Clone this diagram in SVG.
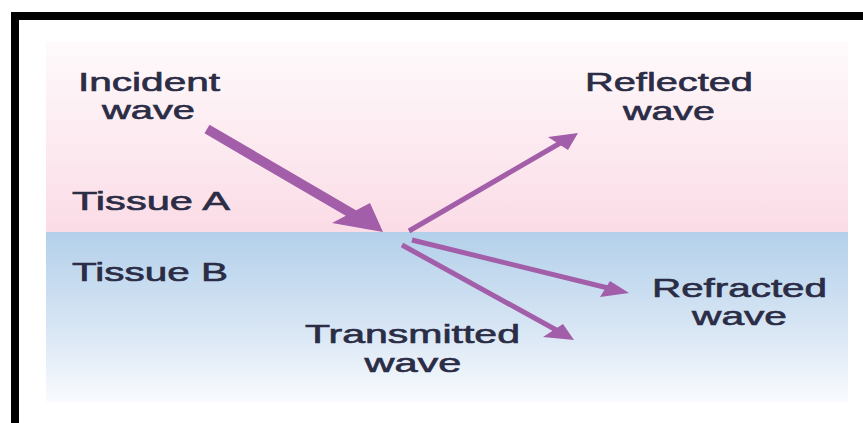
<svg xmlns="http://www.w3.org/2000/svg" width="863" height="423" viewBox="0 0 863 423">
<defs>
<linearGradient id="gA" x1="0" y1="0" x2="0" y2="1">
<stop offset="0" stop-color="#fefafc"/>
<stop offset="1" stop-color="#fbdce6"/>
</linearGradient>
<linearGradient id="gB" x1="0" y1="0" x2="0" y2="1">
<stop offset="0" stop-color="#b3d0ea"/>
<stop offset="0.6" stop-color="#dae7f5"/>
<stop offset="1" stop-color="#f9fbfe"/>
</linearGradient>
<style>
.lbl{font-family:"Liberation Sans",Arial,sans-serif;font-size:25px;fill:#2b2c45;stroke:#2b2c45;stroke-width:0.6;text-anchor:middle}
.ln{stroke:#a25ea8;fill:none;stroke-linecap:butt}
.hd{fill:#a25ea8}
</style>
</defs>
<rect x="0" y="0" width="863" height="423" fill="#ffffff"/>
<rect x="15" y="16" width="900" height="500" fill="none" stroke="#000" stroke-width="8"/>
<g id="tissueA">
<rect x="46" y="42" width="802" height="190" fill="url(#gA)"/>
<text class="lbl" x="151" y="210" textLength="158" lengthAdjust="spacingAndGlyphs">Tissue A</text>
</g>
<g id="tissueB">
<rect x="46" y="232" width="802" height="170" fill="url(#gB)"/>
<text class="lbl" x="150" y="281" textLength="156" lengthAdjust="spacingAndGlyphs">Tissue B</text>
</g>
<g id="connectors">
<line class="ln" x1="207" y1="129" x2="356" y2="216" stroke-width="10"/>
<polygon class="hd" points="383,232 332,223 370,203"/>
<line class="ln" x1="409" y1="231" x2="562" y2="142" stroke-width="5"/>
<polygon class="hd" points="578,133 548,137 568,150"/>
<line class="ln" x1="412" y1="240" x2="608" y2="288" stroke-width="5"/>
<polygon class="hd" points="629,293 610,281 600,297"/>
<line class="ln" x1="402" y1="245" x2="558" y2="331" stroke-width="5"/>
<polygon class="hd" points="574,340 563,324 543,337"/>
</g>
<g id="incident">
<text class="lbl" x="149" y="91" textLength="142" lengthAdjust="spacingAndGlyphs">Incident</text>
<text class="lbl" x="148.5" y="119" textLength="93" lengthAdjust="spacingAndGlyphs">wave</text>
</g>
<g id="reflected">
<text class="lbl" x="669" y="91" textLength="168" lengthAdjust="spacingAndGlyphs">Reflected</text>
<text class="lbl" x="669" y="120" textLength="92" lengthAdjust="spacingAndGlyphs">wave</text>
</g>
<g id="refracted">
<text class="lbl" x="739.5" y="297" textLength="175" lengthAdjust="spacingAndGlyphs">Refracted</text>
<text class="lbl" x="739.5" y="325" textLength="95" lengthAdjust="spacingAndGlyphs">wave</text>
</g>
<g id="transmitted">
<text class="lbl" x="412.5" y="343" textLength="215" lengthAdjust="spacingAndGlyphs">Transmitted</text>
<text class="lbl" x="413" y="372" textLength="97" lengthAdjust="spacingAndGlyphs">wave</text>
</g>
</svg>
